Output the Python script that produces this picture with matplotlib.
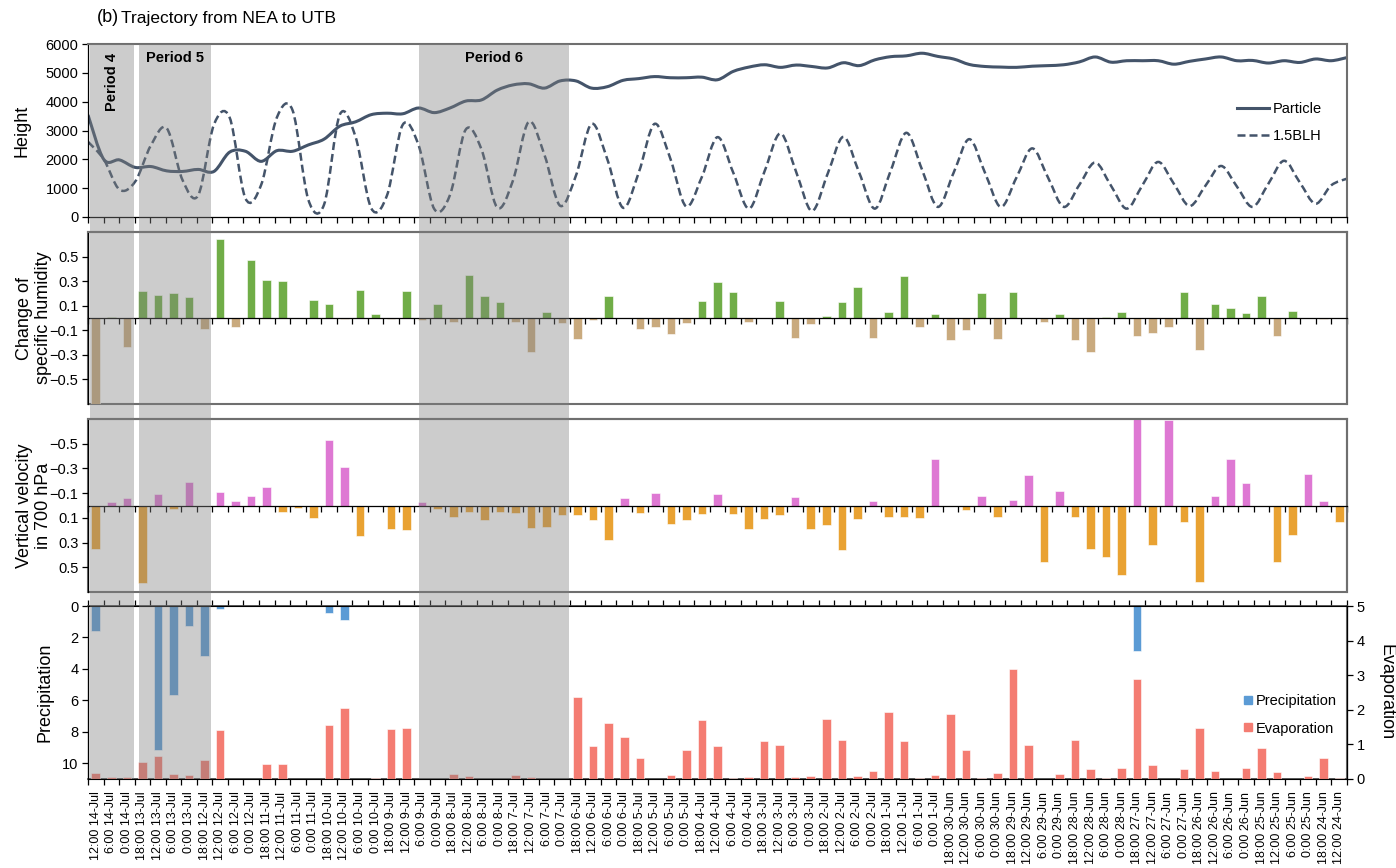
import matplotlib
matplotlib.use('Agg')
import matplotlib.pyplot as plt
import matplotlib.transforms as mtransforms
from matplotlib.lines import Line2D
from matplotlib.patches import PathPatch, Rectangle, Patch
from matplotlib.path import Path
import numpy as np
import pandas as pd

plt.rcParams['font.family'] = ['Liberation Sans', 'DejaVu Sans']

# 6-hourly back trajectory, newest first
times = pd.date_range('2016-06-24 12:00', '2016-07-14 12:00', freq='6h')[::-1]
labels = [f'{t.hour}:00 {t.day}-{t.strftime("%b")}' for t in times]

particle = [3540, 2000, 1980, 1720, 1750, 1600, 1580, 1650, 1580, 2250,
            2280, 1930, 2300, 2280, 2500, 2700, 3150, 3300, 3550, 3600,
            3580, 3780, 3620, 3780, 4020, 4060, 4400, 4580, 4620, 4470,
            4720, 4720, 4470, 4520, 4740, 4800, 4870, 4830, 4830, 4850,
            4760, 5050, 5200, 5280, 5190, 5270, 5220, 5170, 5350, 5250,
            5450, 5560, 5590, 5680, 5570, 5480, 5290, 5220, 5200, 5190,
            5230, 5250, 5280, 5380, 5550, 5370, 5420, 5420, 5420, 5300,
            5400, 5480, 5550, 5420, 5430, 5340, 5420, 5360, 5480, 5420,
            5530]
blh = [2610, 2000, 950, 1230, 2490, 3080, 1290, 750, 3200, 3450,
       650, 1110, 3450, 3700, 600, 430, 3550, 2780, 300, 750,
       3200, 2500, 280, 760, 3030, 2350, 330, 1260, 3300, 2160,
       390, 1430, 3230, 2000, 320, 1550, 3230, 2030, 370, 1380,
       2770, 1540, 290, 1600, 2900, 1560, 210, 1500, 2780, 1540,
       290, 1600, 2920, 1640, 350, 1530, 2700, 1530, 350, 1370,
       2380, 1370, 350, 1120, 1890, 1090, 290, 1100, 1910, 1150,
       380, 1080, 1770, 1060, 350, 1150, 1950, 1200, 460, 1100,
       1330]

humidity = [-0.70, 0.01, -0.24, 0.22, 0.19, 0.20, 0.17, -0.09, 0.64, -0.07,
            0.47, 0.31, 0.30, 0.0, 0.15, 0.11, -0.005, 0.23, 0.03, -0.005,
            0.22, -0.02, 0.11, -0.03, 0.35, 0.18, 0.13, -0.03, -0.28, 0.05,
            -0.04, -0.17, -0.02, 0.18, 0.0, -0.09, -0.07, -0.13, -0.04, 0.14,
            0.29, 0.21, -0.03, 0.0, 0.14, -0.16, -0.05, 0.02, 0.13, 0.25,
            -0.16, 0.05, 0.345, -0.07, 0.03, -0.18, -0.10, 0.20, -0.17, 0.21,
            0.0, -0.03, 0.03, -0.18, -0.28, 0.01, 0.045, -0.145, -0.12, -0.07,
            0.21, -0.26, 0.11, 0.08, 0.04, 0.18, -0.15, 0.06, 0.0, -0.008,
            0.0]
omega = [0.35, -0.03, -0.06, 0.63, -0.09, 0.03, -0.19, 0.0, -0.11, -0.04,
         -0.08, -0.15, 0.05, 0.02, 0.10, -0.53, -0.31, 0.25, 0.0, 0.19,
         0.20, -0.03, 0.03, 0.09, 0.05, 0.12, 0.05, 0.06, 0.18, 0.17,
         0.08, 0.08, 0.12, 0.28, -0.06, 0.06, -0.10, 0.15, 0.12, 0.065,
         -0.095, 0.065, 0.19, 0.11, 0.08, -0.07, 0.19, 0.16, 0.36, 0.11,
         -0.04, 0.09, 0.09, 0.10, -0.38, 0.0, 0.035, -0.08, 0.09, -0.045,
         -0.25, 0.46, -0.12, 0.09, 0.35, 0.42, 0.56, -0.76, 0.32, -0.69,
         0.13, 0.62, -0.076, -0.38, -0.18, 0.0, 0.46, 0.24, -0.255, -0.035,
         0.13]
precip = [1.6, 0, 0, 0, 9.15, 5.63, 1.28, 3.2, 0.2, 0,
          0, 0, 0, 0, 0, 0.43, 0.92, 0, 0, 0,
          0, 0, 0, 0, 0, 0, 0, 0, 0, 0,
          0, 0, 0, 0, 0, 0, 0, 0, 0, 0,
          0, 0, 0, 0, 0, 0, 0, 0, 0, 0,
          0, 0, 0, 0, 0, 0, 0, 0, 0, 0,
          0, 0, 0, 0, 0, 0, 0, 2.89, 0, 0,
          0, 0, 0, 0, 0, 0, 0, 0, 0, 0,
          0]
evap = [0.16, 0.05, 0.05, 0.5, 0.67, 0.15, 0.12, 0.55, 1.42, 0.01,
        0.01, 0.44, 0.44, 0.01, 0.01, 1.56, 2.04, 0.0, 0.03, 1.45,
        1.47, 0.01, 0.01, 0.15, 0.08, 0.01, 0.01, 0.13, 0.06, 0.01,
        0.01, 2.36, 0.96, 1.62, 1.2, 0.6, 0.0, 0.12, 0.85, 1.7,
        0.96, 0.04, 0.06, 1.1, 0.97, 0.06, 0.08, 1.74, 1.12, 0.1,
        0.22, 1.93, 1.1, 0.02, 0.12, 1.89, 0.85, 0.02, 0.17, 3.19,
        0.99, 0.0, 0.15, 1.13, 0.3, 0.04, 0.32, 2.9, 0.41, 0.0,
        0.3, 1.47, 0.22, 0.0, 0.32, 0.9, 0.19, 0.0, 0.1, 0.61,
        0.02]

# shaded periods, in category units
periods = [('Period 4', -0.37, 2.49), ('Period 5', 2.8, 7.41), ('Period 6', 20.8, 30.45)]

LINE = '#44546A'
FRAME = '#6f6f6f'
n = len(labels)
x = np.arange(n)
xlim = (-0.5, n - 0.5)
bounds = np.arange(n + 1) - 0.5


def smooth_path(xs, ys):
    # Bezier curve through every point, like a spreadsheet "smoothed line"
    pts = np.column_stack([xs, ys]).astype(float)
    prev = np.vstack([pts[:1], pts[:-1]])
    nxt = np.vstack([pts[1:], pts[-1:]])
    tang = (nxt - prev) / 6.0
    verts, codes = [pts[0]], [Path.MOVETO]
    for i in range(len(pts) - 1):
        verts += [pts[i] + tang[i], pts[i + 1] - tang[i + 1], pts[i + 1]]
        codes += [Path.CURVE4] * 3
    return Path(verts, codes)


def style_axes(ax, zero_axis=False):
    ax.set_xlim(*xlim)
    ax.set_xticks(bounds, minor=True)
    ax.set_xticks([])
    for side in ('top', 'right'):
        ax.spines[side].set_color(FRAME)
        ax.spines[side].set_linewidth(1.5)
    ax.spines['left'].set_color('black')
    ax.spines['left'].set_linewidth(0.9)
    ax.spines['bottom'].set_linewidth(0.9)
    if zero_axis:
        ax.spines['bottom'].set_position(('data', 0))
        ax.add_patch(Rectangle((0, 0), 1, 1, transform=ax.transAxes, fill=False,
                               ec=FRAME, lw=1.5, clip_on=False, zorder=0.5))
    ax.tick_params(axis='x', which='minor', direction='out', length=4, width=0.9)
    ax.tick_params(axis='y', direction='out', length=4, width=0.9, labelsize=10.5, pad=3)


fig = plt.figure(figsize=(13.96, 8.68), dpi=100)
W, H = 1396, 868
left, width = 88 / W, (1347 - 88) / W


def panel(top, bottom):
    return fig.add_axes([left, 1 - bottom / H, width, (bottom - top) / H])


ax1 = panel(44, 217)
ax2 = panel(232, 404)
ax3 = panel(419, 592)
ax4 = panel(606, 779)

LABEL_SIZE = 13

# --- height ---
style_axes(ax1)
line_x = np.linspace(xlim[0], xlim[1], n)
ax1.add_patch(PathPatch(smooth_path(line_x, particle), fill=False, ec=LINE, lw=2.2))
ax1.add_patch(PathPatch(smooth_path(line_x, blh), fill=False, ec=LINE, lw=1.8,
                        ls=(0, (3.2, 1.6))))
ax1.set_ylim(0, 6000)
ax1.set_yticks(range(0, 6001, 1000))
ax1.set_ylabel('Height', fontsize=LABEL_SIZE, va='center')
ax1.yaxis.set_label_coords((22 - 88) / 1259, 0.5)
ax1.legend([Line2D([], [], color=LINE, lw=2.2),
            Line2D([], [], color=LINE, lw=1.8, ls=(0, (3.2, 1.6)))],
           ['Particle', '1.5BLH'], loc='upper left', bbox_to_anchor=(0.902, 0.74),
           frameon=False, fontsize=10.5, handlelength=2.2, handletextpad=0.3,
           labelspacing=0.9)

# --- specific humidity change ---
style_axes(ax2, zero_axis=True)
hum = np.array(humidity)
ax2.bar(x, hum, width=0.55, color=np.where(hum >= 0, '#70AD47', '#C9AA7E'),
        edgecolor='white', linewidth=0.4, zorder=2)
ax2.set_ylim(-0.7, 0.7)
ax2.set_yticks([-0.5, -0.3, -0.1, 0.1, 0.3, 0.5])
ax2.set_ylabel('Change of\nspecific humidity', fontsize=LABEL_SIZE, va='center',
               linespacing=1.15)
ax2.yaxis.set_label_coords((34 - 88) / 1259, 0.5)

# --- vertical velocity (axis reversed) ---
style_axes(ax3, zero_axis=True)
om = np.array(omega)
ax3.bar(x, om, width=0.55, color=np.where(om < 0, '#DE78D3', '#E9A232'),
        edgecolor='white', linewidth=0.4, zorder=2)
ax3.set_ylim(0.7, -0.7)
ax3.set_yticks([-0.5, -0.3, -0.1, 0.1, 0.3, 0.5])
ax3.set_ylabel('Vertical velocity\nin 700 hPa', fontsize=LABEL_SIZE, va='center',
               linespacing=1.15)
ax3.yaxis.set_label_coords((34 - 88) / 1259, 0.5)

# --- precipitation (down from top) and evaporation (up from bottom) ---
style_axes(ax4)
for side in ('top', 'bottom'):
    ax4.spines[side].set_color('#404040')
    ax4.spines[side].set_linewidth(1.2)
ax4.bar(x, precip, width=0.55, color='#5B9BD5', edgecolor='white', linewidth=0.4)
ax4.set_ylim(11, 0)
ax4.set_yticks(range(0, 11, 2))
ax4.set_ylabel('Precipitation', fontsize=LABEL_SIZE, va='center')
ax4.yaxis.set_label_coords((45 - 88) / 1259, 0.5)
ax4.set_xticks(x)
ax4.set_xticklabels(labels, rotation=90, fontsize=9)
ax4.tick_params(axis='x', which='major', length=0, pad=9)
ax4.tick_params(axis='x', which='minor', top=True, bottom=True)

ax5 = ax4.twinx()
ax5.set_xlim(*xlim)
ax5.bar(x, evap, width=0.55, color='#F47C72', edgecolor='white', linewidth=0.4)
ax5.set_ylim(0, 5)
ax5.set_yticks(range(0, 6))
ax5.spines['right'].set_color('black')
ax5.spines['right'].set_linewidth(0.9)
ax5.tick_params(axis='y', direction='out', length=4, width=0.9, labelsize=10.5, pad=3)
ax5.set_ylabel('Evaporation', fontsize=LABEL_SIZE, rotation=270, va='center')
ax5.yaxis.set_label_coords(1 + (1386 - 1347) / 1259, 0.5)
ax5.legend([Patch(color='#5B9BD5'), Patch(color='#F47C72')],
           ['Precipitation', 'Evaporation'], loc='upper left',
           bbox_to_anchor=(0.908, 0.565), frameon=False, fontsize=10.5,
           handlelength=0.5, handleheight=0.5, handletextpad=0.3, labelspacing=0.9)

# grey period bands through all four panels
blend = mtransforms.blended_transform_factory(ax4.transData, fig.transFigure)
y_lo, y_hi = 1 - 779 / H, 1 - 44 / H
for name, x0, x1 in periods:
    fig.add_artist(Rectangle((x0, y_lo), x1 - x0, y_hi - y_lo, transform=blend,
                             facecolor=(0.5, 0.5, 0.5), alpha=0.4, lw=0, zorder=5))

fig.text(1.05, 4700, 'Period 4', transform=ax1.transData, rotation=90,
         ha='center', va='center', fontsize=10.5, fontweight='bold', zorder=10)
fig.text(5.1, 5520, 'Period 5', transform=ax1.transData,
         ha='center', va='center', fontsize=10.5, fontweight='bold', zorder=10)
fig.text(25.6, 5520, 'Period 6', transform=ax1.transData,
         ha='center', va='center', fontsize=10.5, fontweight='bold', zorder=10)

fig.text(97 / W, 1 - 18 / H, '(b)', fontsize=13, va='center')
fig.text(121 / W, 1 - 18 / H, 'Trajectory from NEA to UTB', fontsize=12.5, va='center')

fig.savefig('out.png', dpi=100)
